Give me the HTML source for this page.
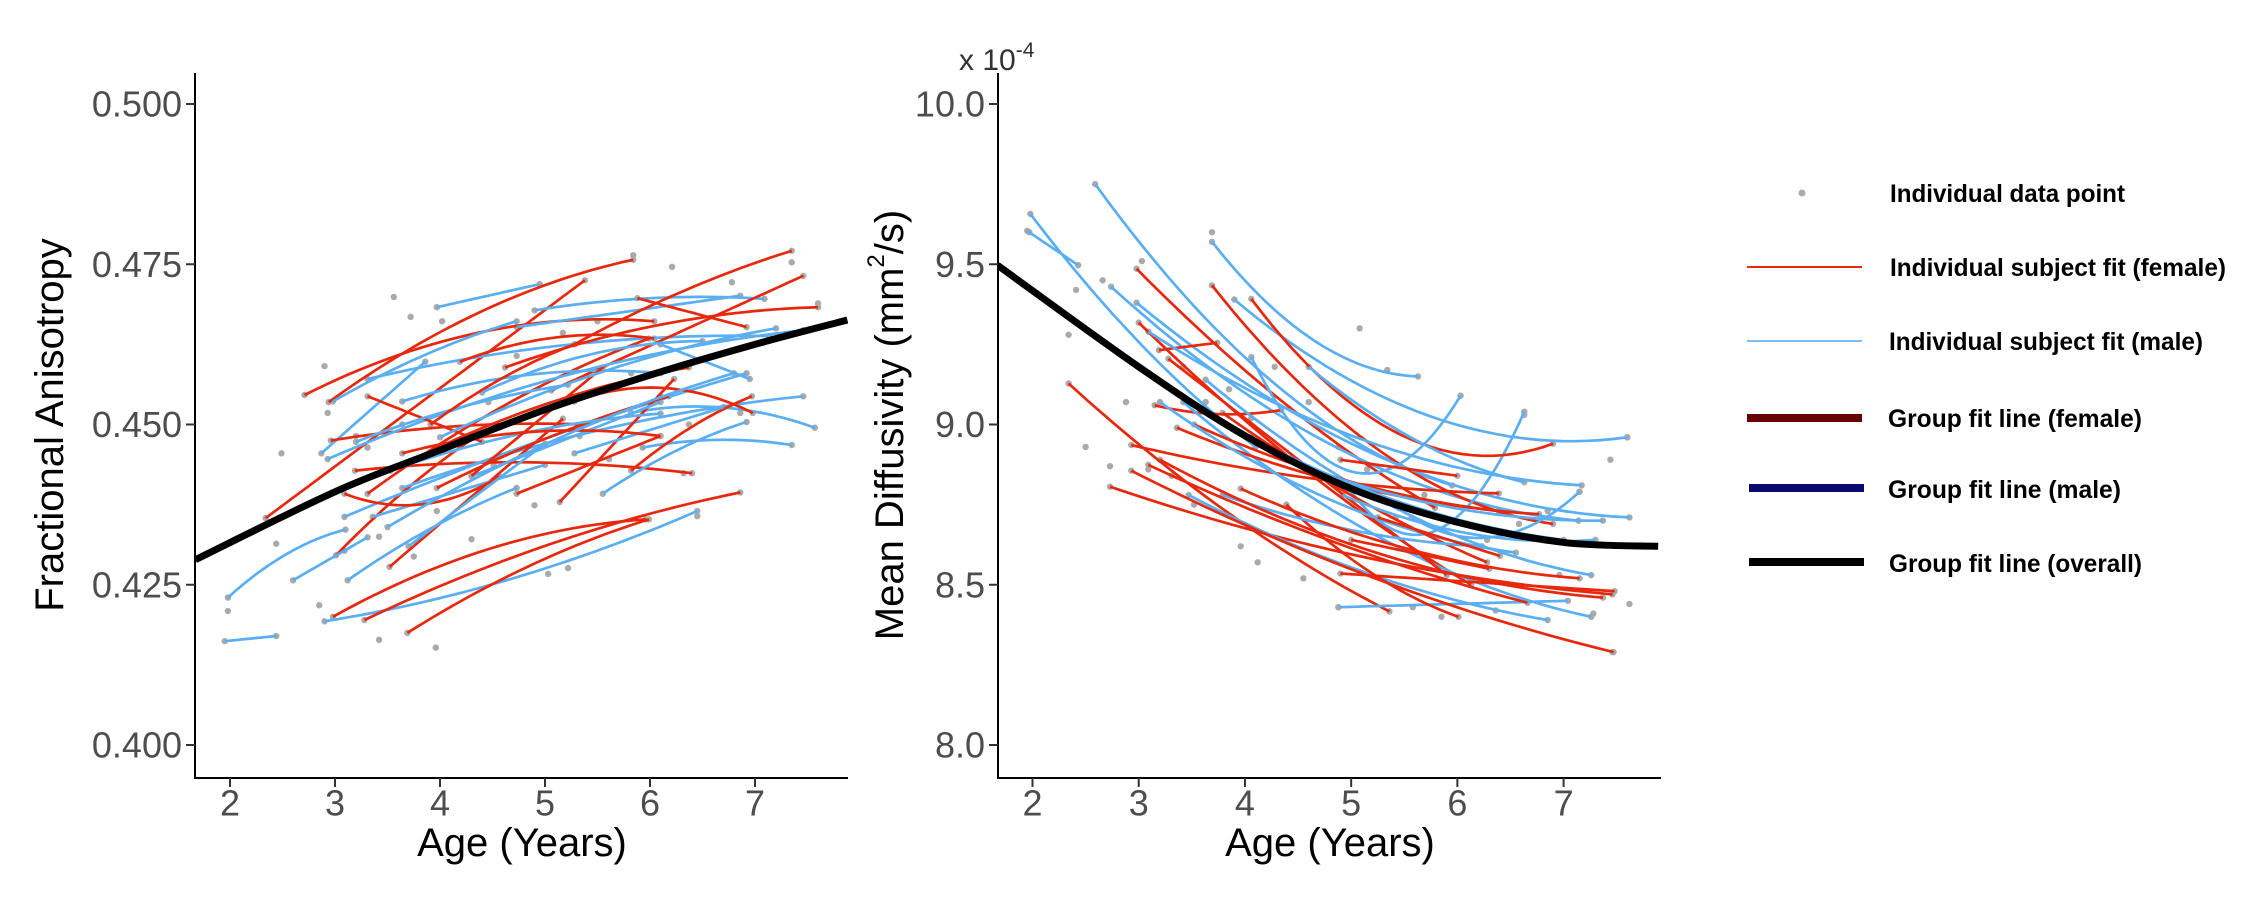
<!DOCTYPE html>
<html><head><meta charset="utf-8"><style>
html,body{margin:0;padding:0;background:#fff}
svg{display:block}
text{font-family:"Liberation Sans",Arial,sans-serif}
</style></head><body>
<svg id="chart" width="2244" height="913" viewBox="0 0 2244 913" xmlns="http://www.w3.org/2000/svg">
<rect width="2244" height="913" fill="#fff"/>
<g id="p1"></g>
<g id="p2"></g>
<g id="legend">
  <circle cx="1802" cy="193" r="3.5" fill="#aaaaaa"/>
  <text x="1890" y="194" font-size="25" font-weight="bold" dominant-baseline="central" textLength="235" lengthAdjust="spacingAndGlyphs">Individual data point</text>
  <line x1="1747" x2="1862" y1="267" y2="267" stroke="#e8280c" stroke-width="2"/>
  <text x="1890" y="268" font-size="25" font-weight="bold" dominant-baseline="central" textLength="336" lengthAdjust="spacingAndGlyphs">Individual subject fit (female)</text>
  <line x1="1747" x2="1862" y1="341" y2="341" stroke="#7fbcf2" stroke-width="2"/>
  <text x="1889" y="342" font-size="25" font-weight="bold" dominant-baseline="central" textLength="314" lengthAdjust="spacingAndGlyphs">Individual subject fit (male)</text>
  <line x1="1747" x2="1862" y1="418" y2="418" stroke="#660000" stroke-width="8"/>
  <text x="1888" y="419" font-size="25" font-weight="bold" dominant-baseline="central" textLength="254" lengthAdjust="spacingAndGlyphs">Group fit line (female)</text>
  <line x1="1749" x2="1864" y1="488" y2="488" stroke="#0c0a6e" stroke-width="8"/>
  <text x="1888" y="490" font-size="25" font-weight="bold" dominant-baseline="central" textLength="233" lengthAdjust="spacingAndGlyphs">Group fit line (male)</text>
  <line x1="1749" x2="1864" y1="562" y2="562" stroke="#000" stroke-width="8"/>
  <text x="1889" y="564" font-size="25" font-weight="bold" dominant-baseline="central" textLength="253" lengthAdjust="spacingAndGlyphs">Group fit line (overall)</text>
</g>
</svg>
<script>
// ---------- FA panel data ----------
// [startAge, startFA, endAge, endFA, bend]
const faFemale = [
[2.94,.4535,5.84,.4757,.003],[2.34,.4354,5.38,.4725,0],[2.71,.4546,6.04,.4661,.004],
[2.96,.4475,5.39,.4500,.001],[3.01,.4296,4.35,.4482,.001],[3.19,.4428,6.40,.4424,.0015],
[3.31,.4392,5.99,.4634,.002],[2.98,.4200,5.96,.4352,.003],[3.28,.4195,6.86,.4394,.002],
[3.69,.4175,5.99,.4352,.0015],[3.52,.4278,5.17,.4509,0],[5.88,.4697,6.92,.4652,0],
[5.82,.4428,6.97,.4544,.001],[5.06,.4553,7.46,.4732,0],[5.28,.4625,7.35,.4771,.001],
[5.28,.4536,6.98,.4518,.003],[5.14,.4379,6.23,.4571,0],[3.97,.4401,6.18,.4544,.001],
[4.62,.4589,7.60,.4683,.002],[3.09,.4392,4.57,.4419,-.003],[3.31,.4544,4.40,.4473,0],
[4.19,.4598,6.04,.4634,.002],[3.64,.4455,6.10,.4482,.002],[3.91,.4500,5.28,.4625,.001],
[4.30,.4420,5.55,.4589,0],[3.53,.4428,6.37,.4589,.002],[4.73,.4392,6.10,.4482,0]
];
const faMale = [
[1.95,.4162,2.44,.4170,0],[1.98,.4230,3.10,.4336,.0015],[2.90,.4193,6.45,.4365,-.002],
[2.87,.4455,3.86,.4598,0],[3.97,.4683,4.95,.4719,0],[3.31,.4571,7.14,.4638,.002],
[3.64,.4401,7.46,.4544,.002],[4.73,.4652,6.86,.4701,0],[4.90,.4678,7.09,.4696,.001],
[5.82,.4518,7.57,.4495,.002],[5.93,.4464,7.35,.4468,.001],[3.09,.4356,6.92,.4580,.001],
[2.60,.4257,3.31,.4324,0],[3.12,.4257,4.73,.4401,.001],[2.93,.4446,7.46,.4647,.003],
[3.64,.4536,6.10,.4580,.002],[2.98,.4536,4.73,.4661,.001],[6.10,.4625,6.95,.4571,0],
[3.09,.4401,6.10,.4517,.002],[3.36,.4356,5.00,.4437,0],[5.28,.4455,6.70,.4527,0],
[5.55,.4392,6.92,.4504,.001],[4.30,.4419,6.10,.4535,0],[3.20,.4473,5.22,.4562,.001],
[3.50,.4340,6.80,.4580,.002],[4.00,.4480,7.20,.4650,.002],[3.70,.4310,5.00,.4470,0],
[4.40,.4550,6.50,.4630,.002]
];
const faDotAges = [1.98,2.49,2.9,3.56,3.72,5.84,6.21,6.78,7.35,7.6,3.96,3.42,2.85,5.22,5.03,6.45,6.32,4.3,2.44,3.09,3.42,3.75,4.46,4.73,5.5,6.1,6.37,6.86,4.02,5.17,3.31,3.64,4.51,4.9,5.61,5.33,5.82,2.93,3.2,3.97];
const faDotVals = [.4209,.4455,.4591,.4699,.4668,.4764,.4746,.4722,.4753,.4689,.4152,.4164,.4218,.4276,.4267,.4357,.4424,.4321,.4314,.4303,.4325,.4294,.4535,.4607,.4661,.4544,.4500,.4518,.4661,.4643,.4464,.4500,.4437,.4374,.4446,.4482,.4580,.4518,.4482,.4365];
const faGroupAges = [1.67,3,4,5,6,7,7.88];
const faGroupVals = [.4289,.4395,.4460,.4523,.4577,.4625,.4663];
const faTicks = [0.400,0.425,0.450,0.475,0.500];
const faTickLabels = ["0.400","0.425","0.450","0.475","0.500"];
const ageTicks = [2,3,4,5,6,7];

// ---------- MD panel data (x 10^-4) ----------
const mdFemale = [
[2.34,9.128,5.36,8.417,-.05],[2.73,8.806,7.46,8.47,-.05],[2.98,9.486,5.79,8.74,-.05],
[3.69,9.434,6.90,8.69,-.15],[3.00,9.318,6.13,8.50,-.05],[3.19,9.232,3.74,9.255,0],
[3.15,9.060,4.34,9.045,-.02],[2.93,8.936,6.39,8.785,-.03],[2.93,8.856,7.47,8.29,-.05],
[3.28,9.205,5.90,8.53,0],[3.36,8.990,6.77,8.72,-.05],[4.90,8.535,7.48,8.48,0],
[4.06,9.392,6.90,8.94,-.2],[3.09,8.874,6.66,8.444,-.03],[3.52,9.000,6.39,8.73,-.04],
[4.39,8.750,6.01,8.40,-.04],[3.79,9.036,6.28,8.57,-.03],[3.20,8.890,7.37,8.46,-.08],
[4.90,8.890,6.00,8.84,0],[5.00,8.640,6.30,8.55,0],[3.96,8.800,7.15,8.52,-.05],
[5.25,8.710,6.40,8.59,0]
];
const mdMale = [
[1.95,9.604,2.43,9.497,0],[1.98,9.657,4.10,8.93,-.05],[2.59,9.750,5.95,8.81,-.15],
[2.74,9.430,7.14,8.70,-.15],[3.69,9.570,5.63,9.15,-.1],[2.98,9.380,7.62,8.71,-.15],
[3.90,9.390,7.60,8.96,-.15],[4.88,8.430,7.04,8.45,0],[3.47,8.780,6.85,8.39,-.05],
[3.42,9.070,7.26,8.40,-.1],[4.06,9.210,6.03,9.09,-.3],[4.98,8.800,6.63,9.04,-.25],
[3.09,9.290,7.17,8.81,-.1],[3.63,9.140,7.26,8.53,-.1],[4.06,8.960,7.00,8.64,-.05],
[4.39,8.890,7.37,8.70,-.05],[3.20,9.070,6.55,8.60,-.08],[3.79,8.780,6.23,8.62,-.03],
[4.60,9.180,6.63,8.82,-.05],[5.57,8.710,7.15,8.79,-.1],[4.92,8.780,7.30,8.64,-.05]
];
const mdDotAges = [1.97,2.34,2.41,2.5,2.66,2.73,2.88,3.03,3.69,5.08,5.34,6.03,6.63,7.6,7.44,7.62,7.46,7.28,6.96,6.36,5.85,5.58,4.88,4.55,4.12,3.96,3.52,3.31,3.09,3.42,3.63,3.85,4.06,4.28,4.6,4.88,5.15,5.42,5.69,6.28,6.58,6.85,7.15];
const mdDotVals = [9.60,9.28,9.42,8.93,9.45,8.87,9.07,9.51,9.60,9.30,9.17,9.09,9.03,8.96,8.89,8.44,8.29,8.41,8.53,8.42,8.40,8.43,8.43,8.52,8.57,8.62,8.75,8.84,8.86,9.18,9.07,9.11,9.02,9.18,9.07,8.93,8.86,8.71,8.78,8.64,8.69,8.73,8.79];
const mdGroupAges = [1.67,3,4,5,6,7,7.89];
const mdGroupVals = [9.497,9.18,8.965,8.80,8.695,8.632,8.62];
const mdTicks = [8.0,8.5,9.0,9.5,10.0];
const mdTickLabels = ["8.0","8.5","9.0","9.5","10.0"];

const NS="http://www.w3.org/2000/svg";
function mk(tag, parent, attrs){const e=document.createElementNS(NS,tag);for(const k in attrs)e.setAttribute(k,attrs[k]);parent.appendChild(e);return e;}

function quadPts(c, sx, sy){
  const [x0,y0,x1,y1,b]=c; const xm=(x0+x1)/2, ym=(y0+y1)/2+b;
  const pts=[];
  for(let i=0;i<=30;i++){
    const x=x0+(x1-x0)*i/30;
    const L0=(x-xm)*(x-x1)/((x0-xm)*(x0-x1)), L1=(x-x0)*(x-x1)/((xm-x0)*(xm-x1)), L2=(x-x0)*(x-xm)/((x1-x0)*(x1-xm));
    const y=y0*L0+ym*L1+y1*L2;
    pts.push(sx(x).toFixed(1)+","+sy(y).toFixed(1));
  }
  return pts.join(" ");
}
function smoothPath(xs, ys, sx, sy){
  const P=xs.map((x,i)=>[sx(x),sy(ys[i])]);
  let d="M"+P[0][0]+","+P[0][1];
  for(let i=0;i<P.length-1;i++){
    const p0=P[Math.max(0,i-1)],p1=P[i],p2=P[i+1],p3=P[Math.min(P.length-1,i+2)];
    const c1=[p1[0]+(p2[0]-p0[0])/6,p1[1]+(p2[1]-p0[1])/6];
    const c2=[p2[0]-(p3[0]-p1[0])/6,p2[1]-(p3[1]-p1[1])/6];
    d+=" C"+c1.join(",")+" "+c2.join(",")+" "+p2.join(",");
  }
  return d;
}

function panel(g, cfg){
  const {axX, axR, axT, axB, x2px, x7px, yLoPx, yHiPx, yLo, yHi} = cfg;
  const sx=a=>x2px+(a-2)*(x7px-x2px)/5;
  const sy=v=>yLoPx+(v-yLo)*(yHiPx-yLoPx)/(yHi-yLo);
  const clip=mk('clipPath',g,{id:cfg.id+'clip'});
  mk('rect',clip,{x:axX,y:axT-10,width:axR-axX,height:axB-axT+10});
  const plot=mk('g',g,{'clip-path':'url(#'+cfg.id+'clip)'});
  
  
  const allDots=[];
  cfg.dotA.forEach((a,i)=>allDots.push([a,cfg.dotV[i]]));
  cfg.female.concat(cfg.male).forEach(c=>{allDots.push([c[0],c[1]]);allDots.push([c[2],c[3]]);});
  allDots.forEach(p=>{
    const c=mk('circle',plot,{cx:sx(p[0]),cy:sy(p[1]),r:3.2,fill:'#aaaaaa'});
    
    
  });
  const n=Math.max(cfg.female.length,cfg.male.length);
  for(let i=0;i<n;i++){
    if(cfg.male[i]){const l=mk('polyline',plot,{points:quadPts(cfg.male[i],sx,sy),fill:'none',stroke:'#5aaef2','stroke-width':2.7});
      
      }
    if(cfg.female[i]){const l=mk('polyline',plot,{points:quadPts(cfg.female[i],sx,sy),fill:'none',stroke:'#e8280c','stroke-width':2.7});
      
      }
  }
  const gl=mk('path',plot,{d:smoothPath(cfg.gA,cfg.gV,sx,sy),fill:'none',stroke:'#000','stroke-width':7});
  
  
  const ya=mk('line',g,{x1:axX,x2:axX,y1:axT,y2:axB+1,stroke:'#000','stroke-width':2});
  
  
  const xa=mk('line',g,{x1:axX-1,x2:axR,y1:axB,y2:axB,stroke:'#000','stroke-width':2});
  
  
  cfg.yTicks.forEach((v,i)=>{
    mk('line',g,{x1:axX-9,x2:axX,y1:sy(v),y2:sy(v),stroke:'#333','stroke-width':2});
    const t=mk('text',g,{x:axX-13,y:sy(v),'font-size':36,fill:'#4d4d4d','text-anchor':'end','dominant-baseline':'central'});
    t.textContent=cfg.yLabels[i];
    
    
  });
  ageTicks.forEach(a=>{
    mk('line',g,{x1:sx(a),x2:sx(a),y1:axB,y2:axB+9,stroke:'#333','stroke-width':2});
    const t=mk('text',g,{x:sx(a),y:axB+25,'font-size':36,fill:'#4d4d4d','text-anchor':'middle','dominant-baseline':'central'});
    t.textContent=String(a);
    
    
  });
  const xt=mk('text',g,{x:cfg.xTitleX,y:843,'font-size':40,fill:'#000','text-anchor':'middle','dominant-baseline':'central'});
  xt.textContent='Age (Years)';
  
  
  return {sx,sy};
}

const p1=document.getElementById('p1');
panel(p1,{id:'fa',axX:195,axR:848,axT:73,axB:778,x2px:230,x7px:755,yLoPx:745,yHiPx:104,yLo:0.400,yHi:0.500,
  female:faFemale,male:faMale,dotA:faDotAges,dotV:faDotVals,gA:faGroupAges,gV:faGroupVals,
  yTicks:faTicks,yLabels:faTickLabels,xTitleX:522});
const t1=mk('text',p1,{x:50,y:425,'font-size':40,fill:'#000','text-anchor':'middle','dominant-baseline':'central',transform:'rotate(-90 50 425)'});
t1.textContent='Fractional Anisotropy';



const p2=document.getElementById('p2');
panel(p2,{id:'md',axX:998,axR:1661,axT:73,axB:778,x2px:1032.5,x7px:1563.6,yLoPx:745,yHiPx:104,yLo:8.0,yHi:10.0,
  female:mdFemale,male:mdMale,dotA:mdDotAges,dotV:mdDotVals,gA:mdGroupAges,gV:mdGroupVals,
  yTicks:mdTicks,yLabels:mdTickLabels,xTitleX:1330});
const t2=mk('text',p2,{x:890,y:425,'font-size':40,fill:'#000','text-anchor':'middle','dominant-baseline':'central',transform:'rotate(-90 890 425)'});
t2.innerHTML='Mean Diffusivity (mm<tspan font-size="24" dy="-14">2</tspan><tspan dy="14">/s)</tspan>';


const sc=mk('text',p2,{x:959,y:70,'font-size':30,fill:'#333'});
sc.innerHTML='x 10<tspan font-size="21" dy="-13">-4</tspan>';


</script>
</body></html>
